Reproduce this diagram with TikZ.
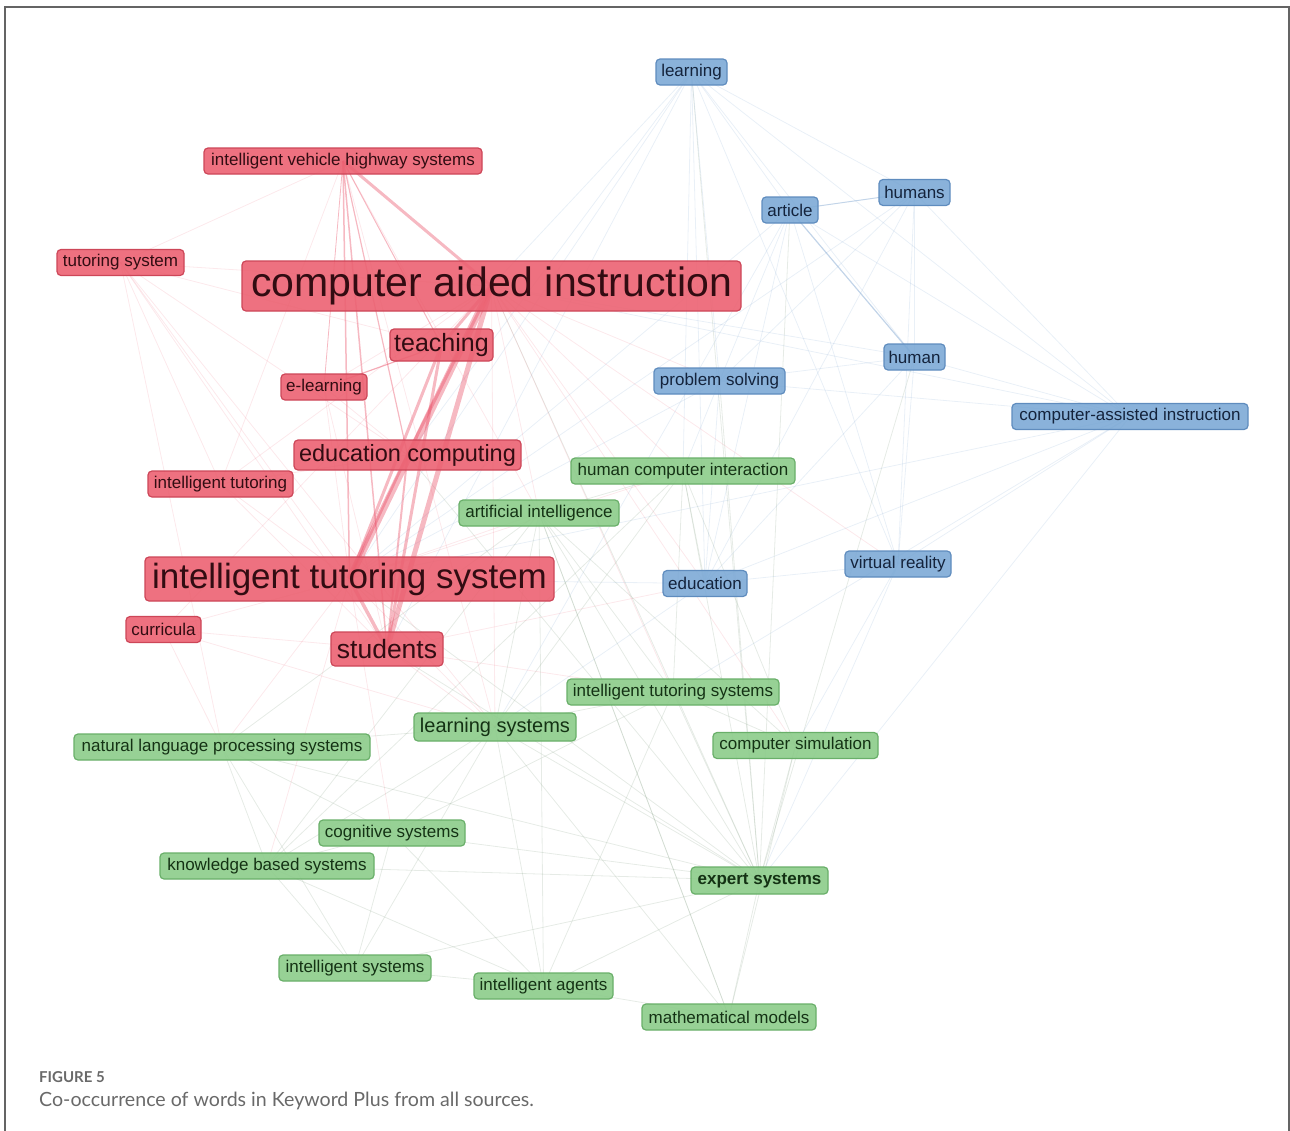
\documentclass[tikz,border=0pt]{standalone}
\usepackage{fontspec}
\setmainfont{Liberation Sans}
\newfontfamily\capfont{Lato}
\usetikzlibrary{backgrounds}
\definecolor{rfill}{RGB}{236,98,114}
\definecolor{rdraw}{RGB}{205,70,88}
\definecolor{rtext}{RGB}{50,12,18}
\definecolor{bfill}{RGB}{125,170,214}
\definecolor{bdraw}{RGB}{95,140,190}
\definecolor{btext}{RGB}{20,35,60}
\definecolor{gfill}{RGB}{140,204,138}
\definecolor{gdraw}{RGB}{105,175,105}
\definecolor{gtext}{RGB}{20,50,20}
\definecolor{redge}{RGB}{232,70,95}
\definecolor{bedge}{RGB}{120,160,205}
\definecolor{gedge}{RGB}{140,165,140}
\definecolor{framec}{RGB}{100,100,100}
\definecolor{capc}{RGB}{105,105,105}
\newcommand\fsz[1]{\fontsize{#1}{#1}\selectfont}
\tikzset{
  kw/.style={rounded corners=4, line width=1.2, inner sep=0, align=center, fill opacity=0.9, text opacity=1},
  rkw/.style={kw, fill=rfill, draw=rdraw, text=rtext},
  bkw/.style={kw, fill=bfill, draw=bdraw, text=btext},
  gkw/.style={kw, fill=gfill, draw=gdraw, text=gtext},
  sm/.style={font=\fsz{17}, minimum height=26},
  rthick/.style={draw=redge, line width=#1, draw opacity=0.38},
  rthin/.style={draw=redge, line width=0.8, draw opacity=0.12},
  bthin/.style={draw=bedge, line width=0.8, draw opacity=0.16},
  gthin/.style={draw=gedge, line width=0.8, draw opacity=0.22},
  framel/.style={draw=framec, line width=1.5},
}
\begin{document}
\begin{tikzpicture}[x=1pt,y=-1pt]
\useasboundingbox (0,0) rectangle (1290,1130);
\draw[framel] (5,1131) -- (5,7) -- (1289,7) -- (1289,1131);

% red cluster
\node[rkw, sm, minimum width=278] (ivhs) at (343,161) {intelligent vehicle highway systems};
\node[rkw, sm, minimum width=127] (tsys) at (120.5,262.5) {tutoring system};
\node[rkw, font=\fsz{41}, minimum width=499, minimum height=50] (cai) at (491.5,286) {computer aided instruction};
\node[rkw, font=\fsz{25}, minimum width=103, minimum height=32] (teach) at (441.5,345) {teaching};
\node[rkw, sm, minimum width=86] (elearn) at (324,387) {e-learning};
\node[rkw, font=\fsz{23.5}, minimum width=227, minimum height=30] (educomp) at (407.5,455) {education computing};
\node[rkw, sm, minimum width=145] (itut) at (220.5,484) {intelligent tutoring};
\node[rkw, font=\fsz{35}, minimum width=409, minimum height=44] (its) at (349.5,579) {intelligent tutoring system};
\node[rkw, sm, minimum width=75] (curr) at (163.5,629.5) {curricula};
\node[rkw, font=\fsz{26.5}, minimum width=112, minimum height=34] (stud) at (387,649) {students};

% blue cluster
\node[bkw, sm, minimum width=71] (learning) at (691.5,72) {learning};
\node[bkw, sm, minimum width=56] (article) at (790,210) {article};
\node[bkw, sm, minimum width=71] (humans) at (914.5,192.5) {humans};
\node[bkw, sm, minimum width=61] (human) at (914.5,357) {human};
\node[bkw, sm, minimum width=131] (probsolv) at (719.5,381) {problem solving};
\node[bkw, sm, minimum width=236] (cai2) at (1130,416.5) {computer-assisted instruction};
\node[bkw, sm, minimum width=84] (education) at (705,583.5) {education};
\node[bkw, sm, minimum width=106] (vr) at (898,564) {virtual reality};

% green cluster
\node[gkw, sm, minimum width=224] (hci) at (683,471) {human computer interaction};
\node[gkw, sm, minimum width=160] (ai) at (539,513) {artificial intelligence};
\node[gkw, sm, minimum width=212] (itss) at (673,692) {intelligent tutoring systems};
\node[gkw, font=\fsz{20}, minimum width=162, minimum height=28] (lsys) at (495,727) {learning systems};
\node[gkw, sm, minimum width=165] (csim) at (795.5,745.5) {computer simulation};
\node[gkw, sm, minimum width=296] (nlp) at (222,747) {natural language processing systems};
\node[gkw, sm, minimum width=146] (cogs) at (392,833) {cognitive systems};
\node[gkw, sm, minimum width=214] (kbs) at (267,866) {knowledge based systems};
\node[gkw, sm, minimum width=137, font=\fsz{17}\bfseries, minimum height=27] (expert) at (759.5,880.5) {expert systems};
\node[gkw, sm, minimum width=152] (isys) at (355,968) {intelligent systems};
\node[gkw, sm, minimum width=139] (iagents) at (543.5,986) {intelligent agents};
\node[gkw, sm, minimum width=174] (mathm) at (729,1017) {mathematical models};

% caption
\node[anchor=base west, inner sep=0, font=\capfont\fsz{15}\bfseries, text=capc] (figlab) at (39,1082) {FIGURE 5};
\node[anchor=base west, inner sep=0, font=\capfont\fsz{19.6}, text=capc] (caption) at (39,1106) {Co-occurrence of words in Keyword Plus from all sources.};

\begin{scope}[on background layer]
% faint green edges
\foreach \a/\b in {expert/lsys, expert/ai, expert/hci, expert/itss, expert/csim, expert/kbs, expert/cogs, expert/nlp, expert/isys, expert/iagents, expert/mathm, expert/its, expert/stud, expert/article, expert/human, expert/probsolv, expert/learning, expert/cai, expert/educomp,
  lsys/ai, lsys/nlp, lsys/kbs, lsys/cogs, lsys/isys, lsys/iagents, lsys/itss, lsys/hci, lsys/mathm,
  ai/hci, ai/itss, ai/kbs, ai/nlp, ai/iagents, ai/mathm, ai/csim,
  hci/itss, hci/csim, hci/education, hci/kbs,
  itss/csim, itss/iagents, itss/cogs,
  nlp/kbs, nlp/cogs, nlp/isys, kbs/cogs, kbs/isys, kbs/iagents,
  isys/iagents, iagents/mathm, cogs/iagents, mathm/csim, mathm/ai, cogs/isys}
  \draw[gthin] (\a.center) -- (\b.center);
% faint blue edges
\foreach \a/\b in {learning/article, learning/humans, learning/human, learning/probsolv, learning/education, learning/cai2, learning/its, learning/stud, learning/vr, learning/hci, learning/cai, learning/educomp,
  article/humans, article/probsolv, article/education, article/vr, article/cai2, article/its, article/lsys,
  humans/human, humans/cai2, humans/vr, humans/education, humans/probsolv, humans/its,
  human/cai2, human/probsolv, human/education, human/vr, human/cai,
  probsolv/cai2, probsolv/education, probsolv/hci, probsolv/its,
  cai2/expert, cai2/education, cai2/itss, cai2/vr, cai2/its, cai2/cai,
  vr/education, vr/expert, vr/csim, education/its, education/lsys}
  \draw[bthin] (\a.center) -- (\b.center);
\draw[draw=bedge, line width=1.2, draw opacity=0.45] (article.center) -- (human.center);
\draw[draw=bedge, line width=1, draw opacity=0.35] (article.center) -- (humans.center);
% faint red edges
\foreach \a/\b in {tsys/cai, tsys/its, tsys/stud, tsys/educomp, tsys/teach, tsys/ivhs, tsys/itut, tsys/lsys, tsys/nlp,
  elearn/cai, elearn/teach, elearn/its, elearn/stud, elearn/educomp,
  itut/cai, itut/its, itut/stud, itut/educomp, itut/ivhs,
  curr/its, curr/stud, curr/cai, curr/lsys, curr/nlp,
  ivhs/lsys, ivhs/ai,
  cai/hci, cai/ai, cai/lsys, cai/itss, cai/probsolv, cai/education, cai/csim, cai/vr,
  its/ai, its/lsys, its/hci, its/nlp, its/kbs, its/cogs,
  stud/lsys, stud/education, stud/itss}
  \draw[rthin] (\a.center) -- (\b.center);
% strong red edges
\draw[rthick=7] (cai.center) -- (its.center);
\draw[rthick=5] (cai.center) -- (stud.center);
\draw[rthick=3] (teach.center) -- (its.center);
\draw[rthick=3] (teach.center) -- (stud.center);
\draw[rthick=2.5] (educomp.center) -- (its.center);
\draw[rthick=2] (educomp.center) -- (stud.center);
\draw[rthick=3.5] (its.center) -- (stud.center);
\draw[rthick=3] (cai.center) -- (educomp.center);
\draw[rthick=3] (cai.center) -- (teach.center);
\draw[rthick=3] (ivhs.center) -- (cai.center);
\draw[rthick=1.5] (ivhs.center) -- (its.center);
\draw[rthick=1.5] (ivhs.center) -- (stud.center);
\draw[rthick=1.2] (ivhs.center) -- (educomp.center);
\draw[rthick=1] (ivhs.center) -- (teach.center);
\draw[rthick=0.8] (ivhs.center) -- (elearn.center);
\draw[rthick=1.2] (elearn.center) -- (teach.center);
\end{scope}
\end{tikzpicture}
\end{document}
